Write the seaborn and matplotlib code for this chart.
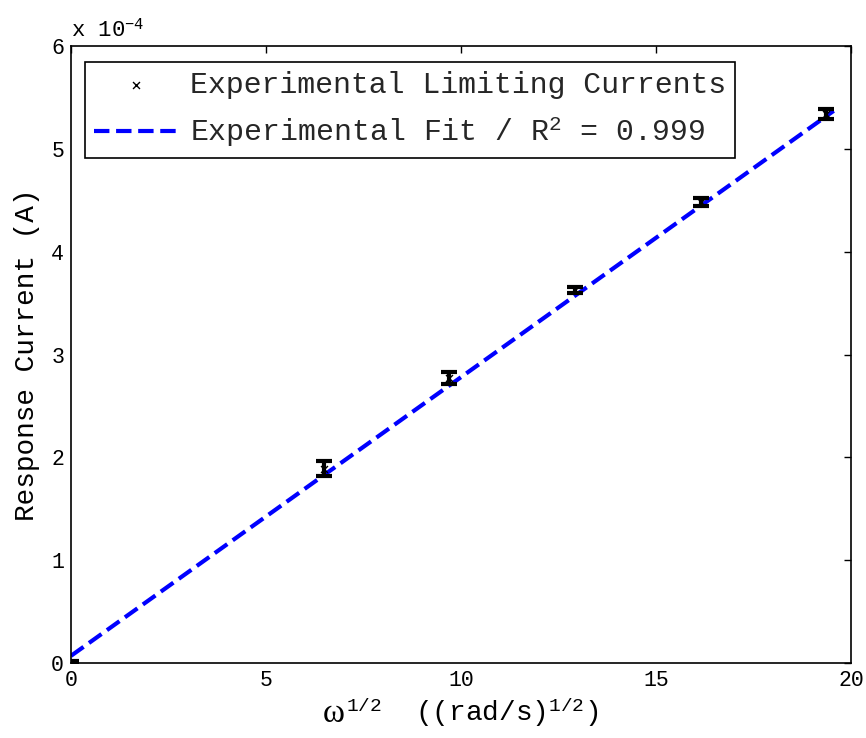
import matplotlib
matplotlib.use("Agg")
import matplotlib.pyplot as plt
import seaborn as sns
import pandas as pd

# Data (current in units of 1e-4 A)
omega_sqrt = [0.0, 6.49, 9.69, 12.92, 16.15, 19.36]
current_e4 = [0.0, 1.89, 2.77, 3.63, 4.48, 5.34]
current_err = [0.02, 0.07, 0.06, 0.03, 0.04, 0.05]
fit_x = [0.0, 19.55]
fit_y = [0.07, 5.37]

sns.set_theme(style="white")
plt.rcParams['font.family'] = ['Liberation Mono', 'DejaVu Sans']
plt.rcParams['mathtext.fontset'] = 'custom'
plt.rcParams['mathtext.rm'] = 'Liberation Mono'
plt.rcParams['mathtext.it'] = 'Liberation Serif:italic'

df = pd.DataFrame({"w": omega_sqrt, "i": current_e4, "e": current_err})
fit_df = pd.DataFrame({"w": fit_x, "i": fit_y})

fig = plt.figure(figsize=(8.66, 7.38), dpi=100)
ax = fig.add_axes([0.082, 0.1016, 0.901, 0.836])

ax.errorbar(df["w"], df["i"], yerr=df["e"], fmt="none", ecolor="black",
            elinewidth=3, capsize=6, capthick=3, zorder=3)
sns.scatterplot(data=df, x="w", y="i", marker="x", color="black", s=25,
                linewidth=1.0, ax=ax, zorder=4,
                label="Experimental Limiting Currents")
sns.lineplot(data=fit_df, x="w", y="i", color="blue", linestyle="--",
             linewidth=3, ax=ax, zorder=2,
             label="Experimental Fit / R$^2$ = 0.999")

ax.set_xlim(0, 20)
ax.set_ylim(0, 6)
ax.set_xticks([0, 5, 10, 15, 20])
ax.set_yticks([0, 1, 2, 3, 4, 5, 6])
ax.tick_params(direction="in", length=5, width=1, top=True, right=True,
               labelsize=15.5, colors="black", pad=5)
for s in ax.spines.values():
    s.set_color("black")
    s.set_linewidth(1.2)

ax.set_xlabel("")
ax.set_ylabel("Response Current (A)", fontsize=20, color="black", labelpad=8)
fig.text(0.398, 0.012, "\u03c9", fontsize=24, family="Liberation Serif",
         ha="right", va="bottom", color="black")
fig.text(0.400, 0.012, r"$^{1/2}$  ((rad/s)$^{1/2}$)", fontsize=20,
         ha="left", va="bottom", color="black")
ax.text(0.0, 1.008, r"x 10$^{-4}$", transform=ax.transAxes, fontsize=16,
        ha="left", va="bottom", color="black")

leg = ax.legend(loc="upper left", bbox_to_anchor=(0.018, 0.974), fontsize=21.5,
                frameon=True, fancybox=False, framealpha=1, edgecolor="black",
                borderpad=0.3, handlelength=2.8, labelspacing=0.55,
                handletextpad=0.4, borderaxespad=0)
leg.get_frame().set_linewidth(1.2)

fig.savefig("out.png", dpi=100)
